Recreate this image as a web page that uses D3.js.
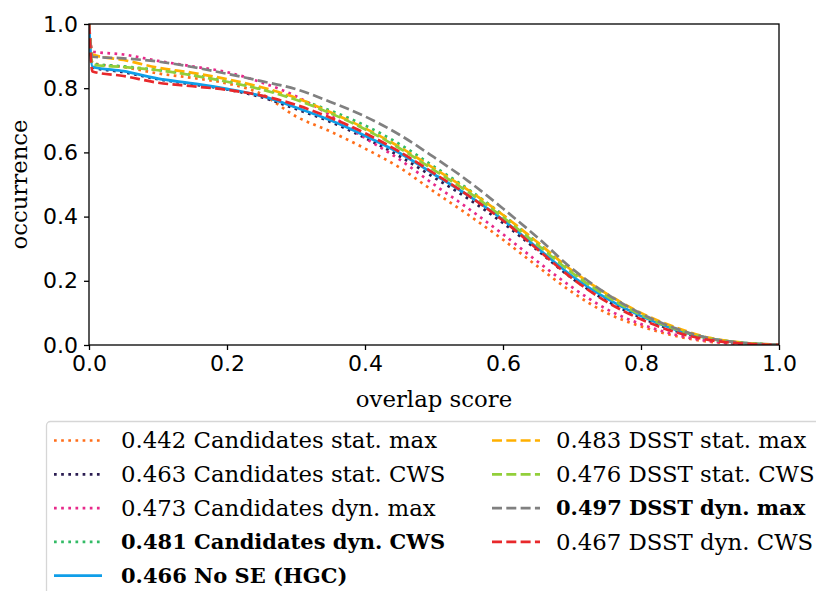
<!DOCTYPE html>
<html>
<head>
<meta charset="utf-8">
<script src="https://cdn.jsdelivr.net/npm/d3@7"></script>
<style>
  body { margin: 0; background: #fff; }
  svg { display: block; }
</style>
</head>
<body>
<div id="chart"></div>
<script>
/*
* Success plot: occurrence vs overlap score threshold
*/

// overlap thresholds (x values)
var thresholds = [0, 0.005, 0.05, 0.1, 0.15, 0.2, 0.25, 0.3, 0.35, 0.4, 0.45, 0.5,
                  0.55, 0.6, 0.65, 0.7, 0.75, 0.8, 0.85, 0.9, 0.95, 1.0];

// occurrence values, one array per tracker variant
var candStatMax = [1.0, 0.878, 0.866, 0.846, 0.832, 0.815, 0.782, 0.712, 0.665, 0.612, 0.553, 0.478,
                   0.405, 0.328, 0.245, 0.165, 0.100, 0.058, 0.028, 0.010, 0.003, 0.0];
var candStatCws = [1.0, 0.865, 0.850, 0.828, 0.812, 0.796, 0.772, 0.735, 0.695, 0.645, 0.588, 0.522,
                   0.455, 0.380, 0.295, 0.208, 0.138, 0.085, 0.044, 0.018, 0.005, 0.001];
var candDynMax  = [1.0, 0.914, 0.905, 0.885, 0.868, 0.850, 0.818, 0.775, 0.715, 0.645, 0.578, 0.500,
                   0.425, 0.345, 0.260, 0.180, 0.112, 0.065, 0.032, 0.012, 0.003, 0.0];
var candDynCws  = [1.0, 0.876, 0.868, 0.857, 0.842, 0.822, 0.798, 0.768, 0.730, 0.684, 0.626, 0.556,
                   0.485, 0.405, 0.318, 0.228, 0.155, 0.095, 0.050, 0.020, 0.006, 0.001];
var noSe        = [1.0, 0.867, 0.853, 0.830, 0.815, 0.798, 0.776, 0.740, 0.700, 0.652, 0.598, 0.532,
                   0.465, 0.390, 0.302, 0.215, 0.145, 0.090, 0.048, 0.020, 0.006, 0.001];
var dsstStatMax = [1.0, 0.905, 0.888, 0.864, 0.848, 0.828, 0.803, 0.770, 0.725, 0.675, 0.617, 0.550,
                   0.482, 0.405, 0.320, 0.232, 0.160, 0.100, 0.055, 0.022, 0.007, 0.001];
var dsstStatCws = [1.0, 0.873, 0.866, 0.856, 0.840, 0.820, 0.796, 0.764, 0.722, 0.672, 0.613, 0.545,
                   0.476, 0.398, 0.312, 0.225, 0.152, 0.094, 0.050, 0.020, 0.006, 0.001];
var dsstDynMax  = [1.0, 0.898, 0.893, 0.883, 0.866, 0.845, 0.822, 0.797, 0.757, 0.712, 0.655, 0.585,
                   0.510, 0.425, 0.335, 0.238, 0.160, 0.098, 0.052, 0.021, 0.006, 0.001];
var dsstDynCws  = [1.0, 0.852, 0.838, 0.817, 0.806, 0.795, 0.777, 0.748, 0.708, 0.660, 0.602, 0.535,
                   0.465, 0.388, 0.298, 0.208, 0.135, 0.080, 0.040, 0.015, 0.004, 0.0];

// legend labels, colours, styles
var labels = ["0.442 Candidates stat. max", "0.463 Candidates stat. CWS", "0.473 Candidates dyn. max",
              "0.481 Candidates dyn. CWS", "0.466 No SE (HGC)",
              "0.483 DSST stat. max", "0.476 DSST stat. CWS", "0.497 DSST dyn. max", "0.467 DSST dyn. CWS"];
var colors = ["#ff6e1a", "#2b1d52", "#e7298a", "#33bb66", "#0f9ee8",
              "#ffb000", "#92cf3a", "#808080", "#e8282b"];
var styles = ["dot", "dot", "dot", "dot", "solid", "dash", "dash", "dash", "dash"];
var boldLabels = ["0.481 Candidates dyn. CWS", "0.466 No SE (HGC)", "0.497 DSST dyn. max"];

var seriesValues = [candStatMax, candStatCws, candDynMax, candDynCws, noSe,
                    dsstStatMax, dsstStatCws, dsstDynMax, dsstDynCws];

var xTicks = [0, 0.2, 0.4, 0.6, 0.8, 1.0];
var yTicks = [0, 0.2, 0.4, 0.6, 0.8, 1.0];

var W = 816, H = 591;
var margin = {top: 24, right: 37, bottom: 246, left: 89},
    width = W - margin.left - margin.right,
    height = H - margin.top - margin.bottom;

var lineWidth = 2.7;
var dashArrays = {
    solid: null,
    dot: (lineWidth) + " " + (lineWidth * 1.65),
    dash: (lineWidth * 3.7) + " " + (lineWidth * 1.6)
};
var serifSize = "22.8px", boldSize = "21px";

var svg = d3.select("#chart").append("svg")
    .attr("width", W)
    .attr("height", H);

var g = svg.append("g")
    .attr("transform", "translate(" + margin.left + "," + margin.top + ")");

// set the ranges
var x = d3.scaleLinear().domain([0, 1]).range([0, width]);
var y = d3.scaleLinear().domain([0, 1]).range([height, 0]);

g.append("clipPath").attr("id", "plotclip")
    .append("rect").attr("width", width).attr("height", height);

var valueline = d3.line()
    .x(function(d) { return x(d[0]); })
    .y(function(d) { return y(d[1]); })
    .curve(d3.curveMonotoneX);

var linesG = g.append("g").attr("clip-path", "url(#plotclip)");
seriesValues.forEach(function(vals, i) {
    var pts = thresholds.map(function(t, k) { return [t, vals[k]]; });
    linesG.append("path")
        .datum(pts)
        .attr("fill", "none")
        .attr("stroke", colors[i])
        .attr("stroke-width", lineWidth)
        .attr("stroke-dasharray", dashArrays[styles[i]])
        .attr("d", valueline);
});

// Add the X Axis
var xAxis = g.append("g")
    .attr("transform", "translate(0," + height + ")")
    .call(d3.axisBottom(x).tickValues(xTicks).tickFormat(d3.format(".1f"))
        .tickSize(5).tickPadding(5).tickSizeOuter(0));

// Add the Y Axis
var yAxis = g.append("g")
    .call(d3.axisLeft(y).tickValues(yTicks).tickFormat(d3.format(".1f"))
        .tickSize(5).tickPadding(6).tickSizeOuter(0));

[xAxis, yAxis].forEach(function(a) {
    a.select(".domain").remove();
    a.selectAll("line").attr("stroke", "#000").attr("stroke-width", 1.3);
    a.selectAll("text")
        .attr("fill", "#000")
        .style("font-family", "DejaVu Sans")
        .style("font-size", "22px");
});

// frame
g.append("rect")
    .attr("width", width)
    .attr("height", height)
    .attr("fill", "none")
    .attr("stroke", "#000")
    .attr("stroke-width", 1.3);

// Add tags to axis
svg.append("text")
    .attr("x", margin.left + width / 2)
    .attr("y", 407)
    .style("text-anchor", "middle")
    .style("font-family", "DejaVu Serif")
    .style("font-size", serifSize)
    .text("overlap score");

svg.append("text")
    .attr("transform", "rotate(-90)")
    .attr("x", -(margin.top + height / 2))
    .attr("y", 27)
    .style("text-anchor", "middle")
    .style("font-family", "DejaVu Serif")
    .style("font-size", serifSize)
    .text("occurrence");

// legend (runs past the figure edge, like the original)
var legend = svg.append("g");
legend.append("rect")
    .attr("x", 46.5)
    .attr("y", 421.5)
    .attr("width", 820)
    .attr("height", 220)
    .attr("rx", 4)
    .attr("fill", "#fff")
    .attr("stroke", "#d6d6d6")
    .attr("stroke-width", 1.3);

var rowY = 440.5, rowStep = 33.8;
labels.forEach(function(lab, i) {
    var col = i < 5 ? 0 : 1;
    var row = i < 5 ? i : i - 5;
    var lx = col === 0 ? 54 : 492;
    var tx = col === 0 ? 121 : 556;
    var ly = rowY + row * rowStep;
    var isBold = boldLabels.indexOf(lab) >= 0;
    legend.append("line")
        .attr("x1", lx).attr("x2", lx + 48)
        .attr("y1", ly).attr("y2", ly)
        .attr("stroke", colors[i])
        .attr("stroke-width", lineWidth)
        .attr("stroke-dasharray", dashArrays[styles[i]]);
    legend.append("text")
        .attr("x", tx)
        .attr("y", ly)
        .attr("dy", "0.35em")
        .style("font-family", "DejaVu Serif")
        .style("font-size", isBold ? boldSize : serifSize)
        .style("font-weight", isBold ? "bold" : "normal")
        .text(lab);
});
</script>
</body>
</html>
